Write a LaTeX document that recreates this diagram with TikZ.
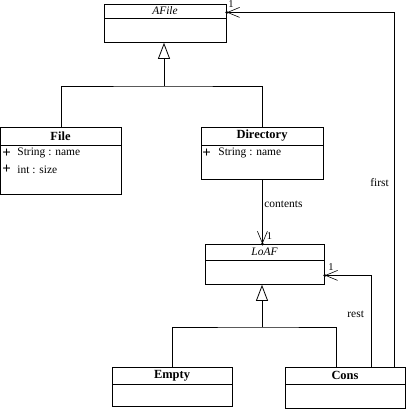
\documentclass[tikz,border=0pt]{standalone}
\usepackage{fontspec}
\setmainfont{Liberation Serif}
\usetikzlibrary{arrows.meta}
\begin{document}
\begin{tikzpicture}[x=1bp,y=-1bp, line width=0.8bp,
    every node/.style={font=\fontsize{11.5}{13}\selectfont},
    classbox/.style={draw, anchor=north west, inner sep=0pt},
    classname/.style={font=\fontsize{12.5}{14}\selectfont\bfseries},
    attr/.style={anchor=west, inner sep=0pt},
    plus/.style={anchor=west, inner sep=0pt, font=\fontsize{15}{15}\selectfont\bfseries},
    mult/.style={font=\fontsize{10.5}{12}\selectfont, inner sep=0pt},
    assoc/.style={-{Straight Barb[length=12bp,width=10bp,line width=0.6bp]}},
    inherit/.style={-{Triangle[open,length=16bp,width=12bp]}}]
    \useasboundingbox (0,0) rectangle (406,410);

    \node[classbox, minimum width=122bp, minimum height=38bp] (afile) at (104,4) {};
    \draw (afile.west |- 0,18) -- (afile.east |- 0,18);
    \node[font=\fontsize{11.5}{13}\selectfont\itshape] (afile-t) at (165,11) {AFile};

    \node[classbox, minimum width=121bp, minimum height=67bp] (file) at (0,127) {};
    \draw (file.west |- 0,145) -- (file.east |- 0,145);
    \node[classname] (file-t) at (60.5,136) {File};
    \node[plus] (file-p1) at (2,153) {+};
    \node[attr] (file-a1) at (17,153) {String : name};
    \node[plus] (file-p2) at (2,169.5) {+};
    \node[attr] (file-a2) at (17,169.5) {int : size};

    \node[classbox, minimum width=122bp, minimum height=52bp] (dir) at (201,127) {};
    \draw (dir.west |- 0,145) -- (dir.east |- 0,145);
    \node[classname] (dir-t) at (262,136) {Directory};
    \node[plus] (dir-p1) at (202,153) {+};
    \node[attr] (dir-a1) at (218,153) {String : name};

    \node[classbox, minimum width=119bp, minimum height=40bp] (loaf) at (205,244) {};
    \draw (loaf.west |- 0,260) -- (loaf.east |- 0,260);
    \node[font=\fontsize{11.5}{13}\selectfont\itshape] (loaf-t) at (264.5,252) {LoAF};

    \node[classbox, minimum width=120bp, minimum height=39bp] (empty) at (112,367) {};
    \draw (empty.west |- 0,384) -- (empty.east |- 0,384);
    \node[classname] (empty-t) at (172,375.5) {Empty};

    \node[classbox, minimum width=120bp, minimum height=41bp] (cons) at (285,367) {};
    \draw (cons.west |- 0,384) -- (cons.east |- 0,384);
    \node[classname] (cons-t) at (345,375.5) {Cons};

    % generalizations
    \coordinate (j1) at (164,86);
    \draw (file.north) |- (j1) -| (dir.north);
    \draw[inherit] (j1) -- (j1 |- afile.south);
    \coordinate (j2) at (262,327);
    \draw (empty.north) |- (j2) -| ([xshift=51bp]cons.north west);
    \draw[inherit] (j2) -- (j2 |- loaf.south);

    % associations
    \coordinate (contents-end) at (dir.south |- loaf.north);
    \draw[assoc] (dir.south) -- (contents-end);
    \fill (contents-end) circle (1.6);
    \node[anchor=west, inner sep=0pt] (contents-l) at (264,204) {contents};
    \node[mult, anchor=west] (contents-m) at (266.5,236) {1};

    \coordinate (rest-end) at ([yshift=-11bp]loaf.east);
    \draw[assoc] ([xshift=86bp]cons.north west) |- (rest-end);
    \fill (rest-end) circle (1.6);
    \node[anchor=west, inner sep=0pt] (rest-l) at (347,314) {rest};
    \node[mult, anchor=west] (rest-m) at (328,267) {1};

    \coordinate (first-end) at ([yshift=11bp]afile.east);
    \draw[assoc] ([xshift=109bp]cons.north west) |- (first-end);
    \fill (first-end) circle (1.6);
    \node[anchor=west, inner sep=0pt] (first-l) at (370,183) {first};
    \node[mult, anchor=west] (first-m) at (228,4.5) {1};
\end{tikzpicture}
\end{document}
